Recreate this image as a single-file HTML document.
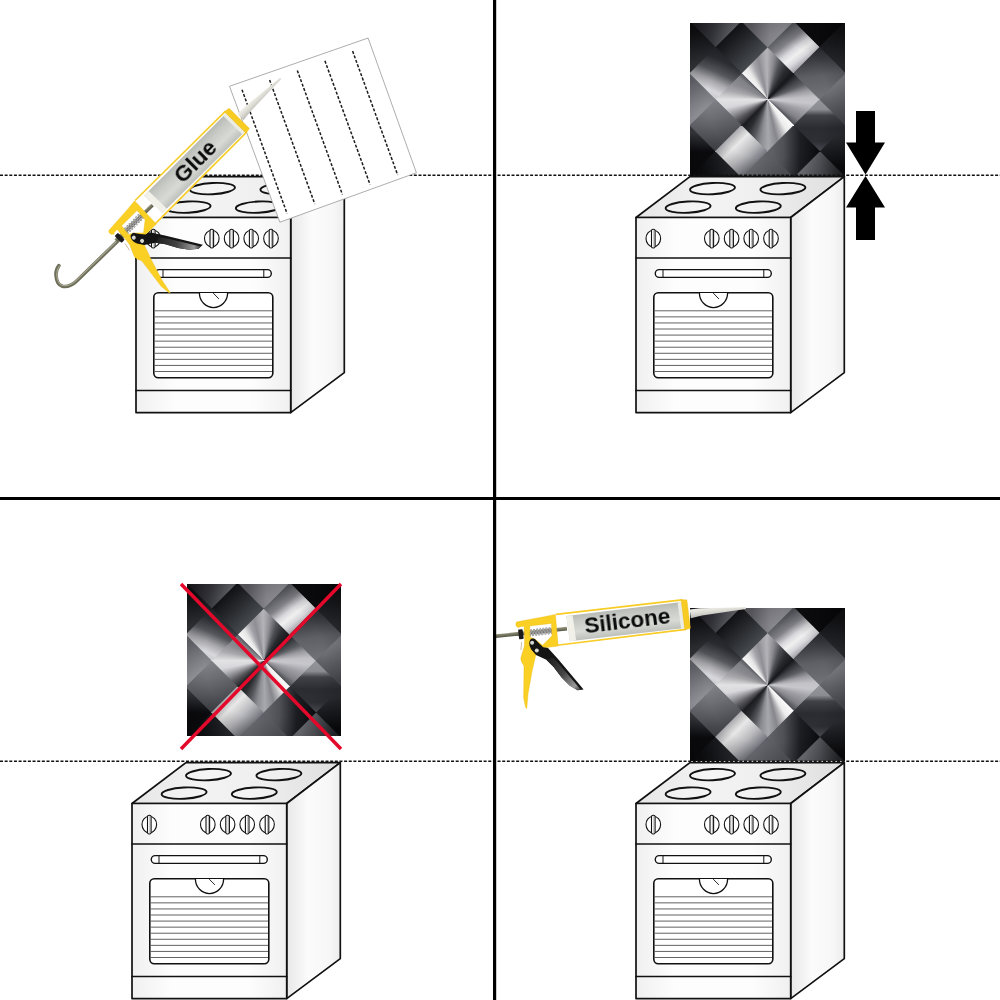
<!DOCTYPE html>
<html>
<head>
<meta charset="utf-8">
<title>Installation steps</title>
<style>
html,body{margin:0;padding:0;background:#fff;}
body{width:1000px;height:1000px;position:relative;overflow:hidden;font-family:"Liberation Sans",sans-serif;}
#stage{position:absolute;left:0;top:0;width:1000px;height:1000px;overflow:hidden;background:#fff;}
svg.layer{position:absolute;left:0;top:0;width:1000px;height:1000px;}
.tile{position:absolute;width:154.4px;height:153.3px;overflow:hidden;background:#55555a;}
.tile i{position:absolute;display:block;width:52.40px;height:52.40px;clip-path:polygon(50% -1%,101% 50%,50% 101%,-1% 50%);}
.tile b{position:absolute;display:block;left:0;top:0;right:0;bottom:0;background:radial-gradient(ellipse at 50% 50%, rgba(0,0,0,0) 55%, rgba(0,0,0,0.35) 100%);}
.tile .c1{left:51.00px;top:24.50px;background:conic-gradient(from 315deg at 50% 100%, #f8f8f8 0deg, #e8e8e8 12deg, #a2a2a8 24deg, #8e8e94 32deg, #b4b4b8 44deg, #8a8a90 54deg, #4e5056 64deg, #2a2c30 76deg, #18181c 90deg, #18181c 200deg, #f8f8f8 340deg, #f8f8f8 360deg);}
.tile .c2{left:77.20px;top:50.70px;background:conic-gradient(from 45deg at 0% 50%, #1a1a1e 0deg, #3a3c42 10deg, #5c5e64 22deg, #9a9aa0 32deg, #c2c2c6 42deg, #c8c8cc 50deg, #a0a0a6 62deg, #808086 78deg, #4a4c52 90deg, #4a4c52 200deg, #1a1a1e 340deg, #1a1a1e 360deg);}
.tile .c3{left:51.00px;top:76.90px;background:conic-gradient(from 135deg at 50% 0%, #fafafa 0deg, #ececec 14deg, #b0b0b4 24deg, #86868c 32deg, #a6a8ae 44deg, #8a8c92 54deg, #55575c 64deg, #2a2c30 76deg, #18181c 90deg, #18181c 200deg, #fafafa 340deg, #fafafa 360deg);}
.tile .c4{left:24.80px;top:50.70px;background:conic-gradient(from 225deg at 100% 50%, #2a2a2e 0deg, #5a5a5e 12deg, #d8d8dc 34deg, #e2e2e4 45deg, #a8a8ac 58deg, #8a8a90 70deg, #7e8086 82deg, #56585e 90deg, #56585e 200deg, #2a2a2e 340deg, #2a2a2e 360deg);}
.tile .c5{left:24.80px;top:-1.70px;background:linear-gradient(135deg, #141418 25%, #2a2c30 50%, #464a4e 75%);}
.tile .c6{left:77.20px;top:-1.70px;background:linear-gradient(142deg, #56585e 25%, #808086 40%, #d8d8dc 52%, #f0f0f0 60%, #d8d8dc 68%, #a8a8ac 76%);}
.tile .c7{left:-1.40px;top:24.50px;background:linear-gradient(205deg, #16181c 0%, #2a2c32 30%, #55575c 48%, #a8a8ac 62%, #d8d8dc 75%, #c8c8cc 88%, #a0a0a4 100%);}
.tile .c8{left:103.40px;top:24.50px;background:linear-gradient(172deg, #202226 0%, #3c3e44 28%, #5e6066 55%, #74767c 100%);}
.tile .c9{left:-1.40px;top:76.90px;background:linear-gradient(160deg, #8a8c92 0%, #6c6e74 38%, #4a4c52 72%, #36383c 100%);}
.tile .c10{left:103.40px;top:76.90px;background:linear-gradient(180deg, #94969c 0%, #8a8c92 20%, #404248 31%, #2a2c32 55%, #2e3036 80%, #50525a 100%);}
.tile .c11{left:24.80px;top:103.10px;background:linear-gradient(135deg, #acacb0 25%, #e8e8e8 39%, #bcbcc0 56%, #70727a 76%);}
.tile .c12{left:77.20px;top:103.10px;background:linear-gradient(90deg, #62646a 0%, #4e5056 30%, #1c1e22 62%, #0c0c10 100%);}
.tile .c13{left:-1.40px;top:-27.90px;background:linear-gradient(100deg, #1c1c22 10%, #3c3c44 50%, #66666e 82%);}
.tile .c14{left:51.00px;top:-27.90px;background:linear-gradient(90deg, #5e5e64 20%, #84848a 55%, #8e8e94 80%);}
.tile .c15{left:103.40px;top:-27.90px;background:linear-gradient(90deg, #0e0e12 0%, #08080a 100%);}
.tile .c16{left:-27.60px;top:-1.70px;background:linear-gradient(180deg, #121216 20%, #34363a 85%);}
.tile .c17{left:-27.60px;top:50.70px;background:linear-gradient(180deg, #66686e 15%, #9c9ea4 85%);}
.tile .c18{left:-27.60px;top:103.10px;background:linear-gradient(180deg, #3a3c40 12%, #0c0c10 50%);}
.tile .c19{left:129.60px;top:-1.70px;background:linear-gradient(180deg, #141418 20%, #2a2c30 85%);}
.tile .c20{left:129.60px;top:50.70px;background:linear-gradient(180deg, #7c7e84 18%, #5e6066 55%, #484a50 88%);}
.tile .c21{left:129.60px;top:103.10px;background:linear-gradient(180deg, #2c2e32 20%, #0c0c10 80%);}
.tile .c22{left:-1.40px;top:129.30px;background:linear-gradient(90deg, #0e0e12 20%, #26282c 80%);}
.tile .c23{left:51.00px;top:129.30px;background:linear-gradient(90deg, #6c6e74 20%, #5e6066 50%, #54565c 80%);}
.tile .c24{left:103.40px;top:129.30px;background:linear-gradient(90deg, #74767c 18%, #5a5c62 50%, #2e3034 86%);}
</style>
</head>
<body>
<div id="stage">
<div class="tile" style="left:690.4px;top:22.5px;height:153.3px"><i class="c1"></i><i class="c2"></i><i class="c3"></i><i class="c4"></i><i class="c5"></i><i class="c6"></i><i class="c7"></i><i class="c8"></i><i class="c9"></i><i class="c10"></i><i class="c11"></i><i class="c12"></i><i class="c13"></i><i class="c14"></i><i class="c15"></i><i class="c16"></i><i class="c17"></i><i class="c18"></i><i class="c19"></i><i class="c20"></i><i class="c21"></i><i class="c22"></i><i class="c23"></i><i class="c24"></i><b></b></div>
<div class="tile" style="left:186.5px;top:583.8px;height:152.6px"><i class="c1"></i><i class="c2"></i><i class="c3"></i><i class="c4"></i><i class="c5"></i><i class="c6"></i><i class="c7"></i><i class="c8"></i><i class="c9"></i><i class="c10"></i><i class="c11"></i><i class="c12"></i><i class="c13"></i><i class="c14"></i><i class="c15"></i><i class="c16"></i><i class="c17"></i><i class="c18"></i><i class="c19"></i><i class="c20"></i><i class="c21"></i><i class="c22"></i><i class="c23"></i><i class="c24"></i><b></b></div>
<div class="tile" style="left:690.4px;top:608.2px;height:153.3px"><i class="c1"></i><i class="c2"></i><i class="c3"></i><i class="c4"></i><i class="c5"></i><i class="c6"></i><i class="c7"></i><i class="c8"></i><i class="c9"></i><i class="c10"></i><i class="c11"></i><i class="c12"></i><i class="c13"></i><i class="c14"></i><i class="c15"></i><i class="c16"></i><i class="c17"></i><i class="c18"></i><i class="c19"></i><i class="c20"></i><i class="c21"></i><i class="c22"></i><i class="c23"></i><i class="c24"></i><b></b></div>
<svg class="layer" viewBox="0 0 1000 1000" width="1000" height="1000">
<defs>
<linearGradient id="gTop" x1="0" y1="0" x2="1" y2="0"><stop offset="0" stop-color="#e6e6e6"/><stop offset="0.35" stop-color="#f3f3f3"/><stop offset="0.6" stop-color="#efefef"/><stop offset="1" stop-color="#dedede"/></linearGradient>
<linearGradient id="gFront" x1="0" y1="0" x2="1" y2="0"><stop offset="0" stop-color="#f0f0f0"/><stop offset="0.25" stop-color="#fdfdfd"/><stop offset="0.75" stop-color="#fdfdfd"/><stop offset="1" stop-color="#f0f0f0"/></linearGradient>
<linearGradient id="gSide" x1="0" y1="0" x2="1" y2="0"><stop offset="0" stop-color="#e8e8e8"/><stop offset="0.4" stop-color="#fbfbfb"/><stop offset="0.8" stop-color="#f7f7f7"/><stop offset="1" stop-color="#ececec"/></linearGradient>
<g id="stove" stroke="#111" stroke-width="1.7" stroke-linejoin="round" stroke-linecap="round" fill="none">
<polygon points="636,217.5 690,176.6 844.3,176.6 790.7,217.5" fill="url(#gTop)"/>
<polygon points="790.7,217.5 844.3,176.6 844.3,372.6 790.7,412.6" fill="url(#gSide)"/>
<rect x="636" y="217.5" width="154.7" height="195.1" fill="url(#gFront)"/>
<line x1="636" y1="258" x2="790.7" y2="258"/>
<line x1="636" y1="390.5" x2="790.7" y2="390.5"/>
<ellipse cx="712.5" cy="188.6" rx="22.5" ry="5.6" transform="rotate(-3 712.5 188.6)" fill="#fff" fill-opacity="0.2" stroke-width="1.9"/>
<ellipse cx="782.9" cy="188.6" rx="22.5" ry="5.6" transform="rotate(-3 782.9 188.6)" fill="#fff" fill-opacity="0.2" stroke-width="1.9"/>
<ellipse cx="688.1" cy="207.1" rx="22.5" ry="5.6" transform="rotate(-3 688.1 207.1)" fill="#fff" fill-opacity="0.2" stroke-width="1.9"/>
<ellipse cx="758.3" cy="207.1" rx="22.5" ry="5.6" transform="rotate(-3 758.3 207.1)" fill="#fff" fill-opacity="0.2" stroke-width="1.9"/>
<ellipse cx="653.3" cy="238.6" rx="7.3" ry="8.3" fill="#fff" stroke-width="1.1"/>
<rect x="651.5" y="229.2" width="3.6" height="18.8" rx="1.6" fill="#fff" stroke-width="1.1"/>
<line x1="653.9" y1="230.5" x2="653.9" y2="247" stroke-width="0.6" stroke="#777"/>
<ellipse cx="711.8" cy="238.6" rx="7.3" ry="8.3" fill="#fff" stroke-width="1.1"/>
<rect x="710" y="229.2" width="3.6" height="18.8" rx="1.6" fill="#fff" stroke-width="1.1"/>
<line x1="712.4" y1="230.5" x2="712.4" y2="247" stroke-width="0.6" stroke="#777"/>
<ellipse cx="731.6" cy="238.6" rx="7.3" ry="8.3" fill="#fff" stroke-width="1.1"/>
<rect x="729.8" y="229.2" width="3.6" height="18.8" rx="1.6" fill="#fff" stroke-width="1.1"/>
<line x1="732.2" y1="230.5" x2="732.2" y2="247" stroke-width="0.6" stroke="#777"/>
<ellipse cx="751.2" cy="238.6" rx="7.3" ry="8.3" fill="#fff" stroke-width="1.1"/>
<rect x="749.4" y="229.2" width="3.6" height="18.8" rx="1.6" fill="#fff" stroke-width="1.1"/>
<line x1="751.8" y1="230.5" x2="751.8" y2="247" stroke-width="0.6" stroke="#777"/>
<ellipse cx="771" cy="238.6" rx="7.3" ry="8.3" fill="#fff" stroke-width="1.1"/>
<rect x="769.2" y="229.2" width="3.6" height="18.8" rx="1.6" fill="#fff" stroke-width="1.1"/>
<line x1="771.6" y1="230.5" x2="771.6" y2="247" stroke-width="0.6" stroke="#777"/>
<rect x="655.3" y="269.6" width="116" height="7.8" rx="3.9" fill="#fff" stroke-width="1.4"/>
<line x1="663" y1="269.8" x2="663" y2="277.2" stroke-width="1"/>
<line x1="763.8" y1="269.8" x2="763.8" y2="277.2" stroke-width="1"/>
<rect x="653.8" y="292.8" width="119" height="85" rx="4.5" fill="#fff" stroke-width="1.6"/>
<line x1="655" y1="310.80" x2="771.6" y2="310.80" stroke="#505050" stroke-width="0.9"/>
<line x1="655" y1="316.87" x2="771.6" y2="316.87" stroke="#505050" stroke-width="0.9"/>
<line x1="655" y1="322.94" x2="771.6" y2="322.94" stroke="#505050" stroke-width="0.9"/>
<line x1="655" y1="329.01" x2="771.6" y2="329.01" stroke="#505050" stroke-width="0.9"/>
<line x1="655" y1="335.08" x2="771.6" y2="335.08" stroke="#505050" stroke-width="0.9"/>
<line x1="655" y1="341.15" x2="771.6" y2="341.15" stroke="#505050" stroke-width="0.9"/>
<line x1="655" y1="347.22" x2="771.6" y2="347.22" stroke="#505050" stroke-width="0.9"/>
<line x1="655" y1="353.29" x2="771.6" y2="353.29" stroke="#505050" stroke-width="0.9"/>
<line x1="655" y1="359.36" x2="771.6" y2="359.36" stroke="#505050" stroke-width="0.9"/>
<line x1="655" y1="365.43" x2="771.6" y2="365.43" stroke="#505050" stroke-width="0.9"/>
<line x1="655" y1="371.50" x2="771.6" y2="371.50" stroke="#505050" stroke-width="0.9"/>
<path d="M699.4,293 A14.1,14.6 0 0 0 727.6,293" fill="#fff" stroke-width="1.3"/>
<line x1="713.5" y1="293.4" x2="718.6" y2="298.6" stroke-width="0.9"/>
</g>
<linearGradient id="gCart" gradientUnits="userSpaceOnUse" x1="623" y1="608" x2="626" y2="634"><stop offset="0" stop-color="#b6b8b4"/><stop offset="0.3" stop-color="#c8cac6"/><stop offset="0.7" stop-color="#d8dad6"/><stop offset="1" stop-color="#c0c2be"/></linearGradient>
<linearGradient id="gNoz" gradientUnits="userSpaceOnUse" x1="715" y1="606" x2="716" y2="616"><stop offset="0" stop-color="#f4f4ee"/><stop offset="0.5" stop-color="#dcdcd4"/><stop offset="1" stop-color="#b8b8b0"/></linearGradient>
<linearGradient id="gRod" gradientUnits="userSpaceOnUse" x1="530" y1="630" x2="530.4" y2="634"><stop offset="0" stop-color="#a4a48c"/><stop offset="0.5" stop-color="#7c7c66"/><stop offset="1" stop-color="#5c5c4c"/></linearGradient>
<linearGradient id="gTrig" gradientUnits="userSpaceOnUse" x1="550" y1="660" x2="580" y2="690"><stop offset="0" stop-color="#222"/><stop offset="0.45" stop-color="#444"/><stop offset="0.85" stop-color="#9a9a9a"/><stop offset="1" stop-color="#444"/></linearGradient>
<g id="gun">
<polygon points="531,626 555.4,614.4 682,599.9 686,629.4 558.2,646 543,647.9 535,640" fill="#fff"/>
<line x1="516" y1="634.1" x2="567" y2="628.7" stroke="url(#gRod)" stroke-width="3.7"/>
<polyline points="530.2,636.3 530.9,629.5 533.3,635.9 534.0,629.2 536.4,635.6 537.1,628.8 539.5,635.2 540.2,628.5 542.5,634.9 543.3,628.1 545.6,634.5 546.4,627.7 548.7,634.2 549.5,627.4 551.8,633.8" fill="none" stroke="#6c6c6c" stroke-width="1.5"/>
<polyline points="530.2,636.3 530.9,629.5 533.3,635.9 534.0,629.2 536.4,635.6 537.1,628.8 539.5,635.2 540.2,628.5 542.5,634.9 543.3,628.1 545.6,634.5 546.4,627.7 548.7,634.2 549.5,627.4 551.8,633.8" fill="none" stroke="#dcdcdc" stroke-width="0.5"/>
<polygon points="566.3,616 681.5,602 685,627.9 569.8,641.2" fill="url(#gCart)"/>
<polygon points="566.3,616 572.6,615.2 576.1,640.5 569.8,641.2" fill="#f1f1ea"/>
<polygon points="677.6,602.5 681.5,602 685,627.9 681.1,628.4" fill="#ecece6"/>
<polygon points="689.8,609.6 700,608.3 745.9,607.3 745.9,609 702,615.6 690.8,618.2" fill="url(#gNoz)"/>
<line x1="556" y1="614.4" x2="682" y2="599.9" stroke="#f8cc26" stroke-width="1.6"/>
<line x1="557" y1="645.2" x2="686" y2="629.4" stroke="#f8cc26" stroke-width="1.6"/>
<polygon points="681.1,599.6 686.9,599.9 690.4,628.2 684.8,629.9" fill="#f8cb22" stroke="#e8b81a" stroke-width="0.4"/>
<path fill-rule="evenodd" fill="#fad024" stroke="#ecbc1c" stroke-width="0.4" d="M515.8,624.4 Q515.6,621.6 518.4,621.6 L544.2,616.8 L555.4,614.4 L558.2,646 L543,647.9 L535.6,655.8 L532,671.6 L528,694 L526.8,708.6 L525.6,707.6 L523.6,698 L524,666 Q520.4,660.6 520.8,658 L524.4,646 L524.6,638.4 L523.9,627 L518.2,627.6 Q516,626.6 515.8,624.4 Z M529.8,626 L551.4,623.4 L552,635.8 L542.6,645.2 L535.1,639.3 L529.9,637 Z"/>
<polygon points="519.6,626.9 523.9,626.4 523.9,628.6 519.8,629" fill="#fff"/>
<rect x="518.6" y="629.4" width="4.6" height="9.8" rx="1" fill="#1a1a1a" transform="rotate(-6.9 520.9 634.3)"/>
<line x1="521.6" y1="642" x2="520.9" y2="650" stroke="#c8b8a0" stroke-width="0.9"/>
</g>
<g id="gunt">
<path fill="#141414" d="M529.2,643.6 Q529.6,638.6 532.6,638.6 Q534.4,638.4 535.4,639.4 L539.2,643.6 L543.2,647.2 L548,648 L558.4,659.6 L583.6,689.4 L577.6,690.2 L569.6,685.4 L561.6,677.4 L553.6,667 L546.4,659.8 L536,654.9 L531.2,649.4 Q529.2,646.4 529.2,643.6 Z"/>
<path fill="url(#gTrig)" d="M546.4,659.8 L553,657.6 L560,665 L580.6,689.6 L577.6,690.2 L569.6,685.4 L561.6,677.4 L553.6,667 Z"/>
<circle cx="532.1" cy="642.8" r="2" fill="#d8d8d4"/>
<circle cx="536.8" cy="650.4" r="2" fill="#d8d8d4"/>
</g>
<filter id="noLcd" x="-10%" y="-30%" width="120%" height="160%"><feOffset dx="0" dy="0"/></filter>
<clipPath id="clipQ4"><rect x="496" y="500" width="504" height="500"/></clipPath>
</defs>
<use href="#stove" transform="translate(-500,0)"/>
<use href="#stove"/>
<use href="#stove" transform="translate(-504,586)"/>
<use href="#stove" transform="translate(0,586)"/>
<g stroke="#111" stroke-width="1.4" stroke-dasharray="3 1.65" fill="none">
<line x1="0" y1="175.3" x2="1000" y2="175.3"/>
<line x1="0" y1="761.2" x2="1000" y2="761.2"/>
</g>
<polygon points="229.5,86.3 368.1,38 416.4,172.8 279.9,222.2" fill="#fff" stroke="#a4a4a4" stroke-width="0.9"/>
<g stroke="#1c1c1c" stroke-width="1.5" stroke-dasharray="3 1.7" fill="none">
<line x1="242.0" y1="89.7" x2="287.1" y2="213.6"/>
<line x1="269.6" y1="80.0" x2="314.8" y2="204.0"/>
<line x1="297.3" y1="70.4" x2="342.4" y2="194.4"/>
<line x1="324.9" y1="60.8" x2="370.1" y2="184.7"/>
<line x1="352.6" y1="51.1" x2="397.7" y2="175.1"/>
</g>
<path d="M124,235 L76.4,281.2 Q69.6,287.6 62.4,286.3 Q56.6,284.6 56,275 Q55.8,269.6 58.9,265.6" fill="none" stroke="#6e6e5a" stroke-width="3.6" stroke-linecap="round"/>
<path d="M124,234.2 L76,280.6 Q69.4,286.8 62.6,285.5 Q57.2,283.8 56.8,275 Q56.6,269.8 59.3,266" fill="none" stroke="#a6a690" stroke-width="1.2" stroke-linecap="round"/>
<g transform="matrix(0.78694 -0.61704 0.61704 0.78694 -681.571 60.069)"><use href="#gun"/><use href="#gunt" transform="rotate(1.8 532.1 642.8)"/></g>
<text transform="matrix(0.78694 -0.61704 0.61704 0.78694 -681.571 60.069) translate(584.6,633.4) rotate(-6.9)" font-family="Liberation Sans, sans-serif" font-weight="bold" font-size="22.5" fill="#0a0a0a" filter="url(#noLcd)" x="19" y="-0.3">Glue</text>
<polygon points="856,111 875,111 875,142.5 885,142.5 865.5,174.6 846,142.5 856,142.5" fill="#000"/>
<polygon points="856,240 875,240 875,207.5 885,207.5 865.5,176 846,207.5 856,207.5" fill="#000"/>
<g stroke="#e4082a" stroke-width="3.5" stroke-linecap="butt"><line x1="181" y1="584" x2="341" y2="749"/><line x1="341" y1="584" x2="181" y2="749"/></g>
<g clip-path="url(#clipQ4)"><line x1="480" y1="637.9" x2="520" y2="633.7" stroke="url(#gRod)" stroke-width="3.7"/><use href="#gun"/><use href="#gunt"/>
<text transform="translate(584.6,633.4) rotate(-6.9)" font-family="Liberation Sans, sans-serif" font-weight="bold" font-size="22.5" fill="#0a0a0a" filter="url(#noLcd)" x="0.7" y="0">Silicone</text></g>
<rect x="493" y="0" width="3.2" height="1000" fill="#000"/>
<rect x="0" y="497" width="1000" height="3" fill="#000"/>
</svg>
</div>
</body>
</html>
